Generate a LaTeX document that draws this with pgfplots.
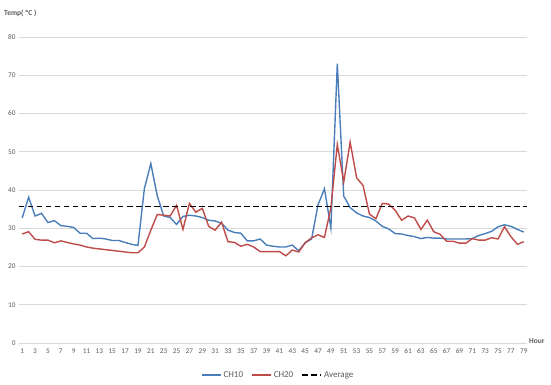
\documentclass[border=0pt]{standalone}
\usepackage{pgfplots}
\pgfplotsset{compat=1.18}
\usepackage{fontspec}
\setmainfont{Carlito}
\definecolor{chblue}{HTML}{4A7EBB}
\definecolor{chred}{HTML}{BE4B48}
\definecolor{txtgray}{HTML}{595959}
\definecolor{gridgray}{HTML}{D9D9D9}
\begin{document}
\begin{tikzpicture}
\begin{axis}[
  scale only axis,
  width=508bp, height=306bp,
  xmin=0.5, xmax=79.5, ymin=0, ymax=80,
  xtick={1,3,...,79},
  ytick={0,10,...,80},
  ymajorgrids, grid style={gridgray, line width=0.8pt},
  axis line style={draw=none},
  axis x line*=bottom,
  axis y line*=left,
  major tick length=0pt,
  tick label style={font=\fontsize{7.3}{8}\selectfont, text=txtgray},
  /pgf/number format/assume math mode=true,
  xticklabel style={yshift=-2bp},
  legend style={draw=none, fill=none, at={(0.51,-0.105)}, anchor=center,
    font=\fontsize{9}{10}\selectfont\color{txtgray}, legend columns=3,
    /tikz/every even column/.append style={column sep=6bp}},
  legend image code/.code={\draw[#1, line width=1.8bp] (0bp,0bp) -- (19bp,0bp);},
  clip=false,
]
\addplot[chblue, line width=1.4pt] coordinates {
(1,32.7)(2,38.1)(3,33.2)(4,33.9)(5,31.5)(6,32.0)(7,30.7)(8,30.5)(9,30.2)(10,28.7)
(11,28.7)(12,27.3)(13,27.4)(14,27.2)(15,26.8)(16,26.8)(17,26.3)(18,25.8)(19,25.5)(20,40.4)
(21,46.9)(22,38.5)(23,33.2)(24,32.8)(25,31.0)(26,33.1)(27,33.4)(28,33.2)(29,32.8)(30,32.1)
(31,31.9)(32,31.3)(33,29.5)(34,28.9)(35,28.7)(36,26.7)(37,26.7)(38,27.2)(39,25.6)(40,25.3)
(41,25.1)(42,25.1)(43,25.6)(44,24.1)(45,26.2)(46,27.2)(47,36.1)(48,40.3)(49,30.1)(50,73.0)
(51,38.4)(52,35.4)(53,34.0)(54,33.2)(55,32.8)(56,31.9)(57,30.5)(58,29.8)(59,28.6)(60,28.5)
(61,28.1)(62,27.8)(63,27.3)(64,27.6)(65,27.4)(66,27.4)(67,27.2)(68,27.2)(69,27.2)(70,27.2)
(71,27.3)(72,28.1)(73,28.6)(74,29.2)(75,30.4)(76,30.9)(77,30.5)(78,29.7)(79,29.0)
};
\addlegendentry{CH10}
\addplot[chred, line width=1.4pt] coordinates {
(1,28.5)(2,29.1)(3,27.1)(4,26.9)(5,26.9)(6,26.2)(7,26.7)(8,26.3)(9,25.9)(10,25.6)
(11,25.1)(12,24.8)(13,24.6)(14,24.4)(15,24.2)(16,24.0)(17,23.8)(18,23.6)(19,23.6)(20,25.1)
(21,29.5)(22,33.6)(23,33.4)(24,33.2)(25,36.0)(26,29.7)(27,36.5)(28,34.2)(29,35.2)(30,30.5)
(31,29.5)(32,31.6)(33,26.5)(34,26.3)(35,25.3)(36,25.8)(37,25.1)(38,23.9)(39,23.9)(40,23.9)
(41,23.9)(42,22.8)(43,24.3)(44,23.8)(45,26.2)(46,27.5)(47,28.3)(48,27.6)(49,35.3)(50,51.9)
(51,42.1)(52,52.5)(53,43.2)(54,41.2)(55,33.7)(56,32.5)(57,36.5)(58,36.3)(59,34.7)(60,32.1)
(61,33.2)(62,32.7)(63,29.7)(64,32.1)(65,29.1)(66,28.4)(67,26.6)(68,26.6)(69,26.1)(70,26.1)
(71,27.3)(72,26.9)(73,26.9)(74,27.5)(75,27.2)(76,30.4)(77,27.8)(78,25.8)(79,26.5)
};
\addlegendentry{CH20}
\addplot[black, line width=1.9pt, dash pattern=on 5.5bp off 3.5bp] coordinates {
(0.5,35.7)(79.5,35.7)
};
\addlegendentry{Average}
\end{axis}
\node[anchor=west, font=\fontsize{7.5}{9}\selectfont\bfseries, text=txtgray, inner sep=0pt] at (-15bp,330bp) {Temp( ºC )};
\node[anchor=west, font=\fontsize{7.5}{9}\selectfont\bfseries, text=txtgray, inner sep=0pt] at (510bp,2bp) {Hour};
\path[use as bounding box] (-19bp,-42bp) rectangle (532bp,343bp);
\end{tikzpicture}
\end{document}
